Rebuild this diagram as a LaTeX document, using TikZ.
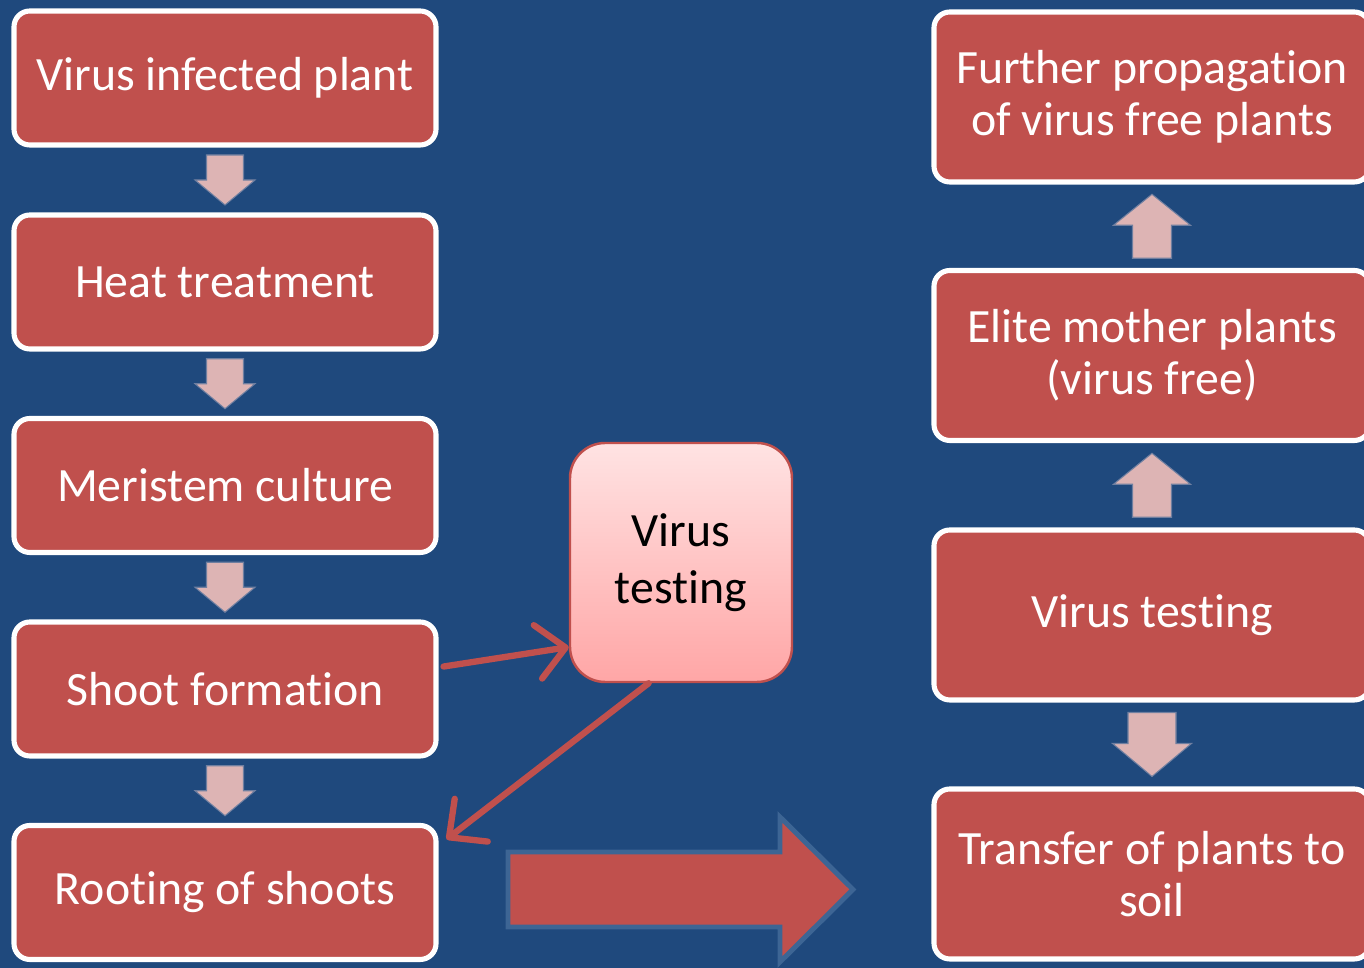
\documentclass[tikz,border=0pt]{standalone}
\usepackage{fontspec}
\setmainfont{Carlito}[Ligatures=NoCommon]
\usetikzlibrary{arrows.meta,calc}
\definecolor{bgblue}{HTML}{1F497D}
\definecolor{boxred}{HTML}{C0504D}
\definecolor{arrpink}{HTML}{DDB4B4}
\definecolor{arredge}{HTML}{6F7FA0}
\definecolor{bigedge}{HTML}{3D6594}
\definecolor{vtop}{HTML}{FFE3E3}
\definecolor{vbot}{HTML}{FFA6A6}
\tikzset{
  stepbox/.style={draw=white, line width=1.45pt, fill=boxred, rounded corners=4.5pt,
    text=white, align=center, font=\fontsize{13.6}{14.8}\selectfont, inner sep=0pt},
  leftbox/.style={stepbox, minimum width=4.22cm, minimum height=1.34cm},
  rightbox/.style={stepbox, minimum width=4.36cm, minimum height=1.70cm},
  testbox/.style={draw=boxred, line width=0.7pt, rounded corners=10pt, top color=vtop,
    bottom color=vbot, text=black, align=center, font=\fontsize{13.6}{16.2}\selectfont,
    minimum width=2.22cm, minimum height=2.39cm, inner sep=0pt},
  conn/.style={draw=boxred, line width=1.8pt, line cap=round,
    -{Straight Barb[length=2.8mm, width=5.4mm, line width=1.8pt, round]}},
  blockarr/.style={fill=arrpink, draw=arredge, line width=0.3pt},
  ldown/.pic={\path[blockarr] (-0.185,0.25) -- (0.185,0.25) -- (0.185,0) -- (0.30,0)
      -- (0,-0.25) -- (-0.30,0) -- (-0.185,0) -- cycle;},
  rup/.pic={\path[blockarr] (-0.195,-0.32) -- (0.195,-0.32) -- (0.195,0.01) -- (0.385,0.01)
      -- (0,0.32) -- (-0.385,0.01) -- (-0.195,0.01) -- cycle;},
  rdown/.pic={\path[blockarr] (-0.24,0.32) -- (0.24,0.32) -- (0.24,0.01) -- (0.395,0.01)
      -- (0,-0.32) -- (-0.395,0.01) -- (-0.24,0.01) -- cycle;}
}
\begin{document}
\begin{tikzpicture}
\fill[bgblue] (0,0) rectangle (13.64,-9.68);
\useasboundingbox (0,0) rectangle (13.64,-9.68);

% left column
\node[leftbox] (b1) at (2.25,-0.78) {Virus infected plant};
\node[leftbox] (b2) at (2.25,-2.82) {Heat treatment};
\node[leftbox] (b3) at (2.25,-4.855) {Meristem culture};
\node[leftbox] (b4) at (2.25,-6.89) {Shoot formation};
\node[leftbox] (b5) at (2.25,-8.925) {Rooting of shoots};

\pic at ($(b1.south)!0.5!(b2.north)$) {ldown};
\pic at ($(b2.south)!0.5!(b3.north)$) {ldown};
\pic at ($(b3.south)!0.5!(b4.north)$) {ldown};
\pic at ($(b4.south)!0.5!(b5.north)$) {ldown};

% right column
\node[rightbox] (r1) at (11.52,-0.97) {Further propagat\kern0pt ion\\of virus free plants};
\node[rightbox] (r2) at (11.52,-3.555) {Elite mother plants\\(virus free)};
\node[rightbox] (r3) at (11.52,-6.15) {Virus test\kern0pt ing};
\node[rightbox] (r4) at (11.52,-8.74) {Transfer of plants to\\soil};

\pic at ($(r1.south)!0.5!(r2.north)$) {rup};
\pic at ($(r2.south)!0.5!(r3.north)$) {rup};
\pic at ($(r3.south)!0.5!(r4.north)$) {rdown};

% virus testing box
\node[testbox] (vt) at (6.81,-5.625) {Virus\\test\kern0pt ing};

\draw[conn] ([xshift=0.05cm]b4.6) -- (vt.217);
\draw[conn] (vt.255.5) -- ([xshift=0.08cm]b5.14);

% big block arrow
\path[fill=boxred, draw=bigedge, line width=1.4pt]
  (5.08,-8.52) -- (7.80,-8.52) -- (7.80,-8.17) -- (8.53,-8.895) -- (7.80,-9.62)
  -- (7.80,-9.27) -- (5.08,-9.27) -- cycle;
\end{tikzpicture}
\end{document}
